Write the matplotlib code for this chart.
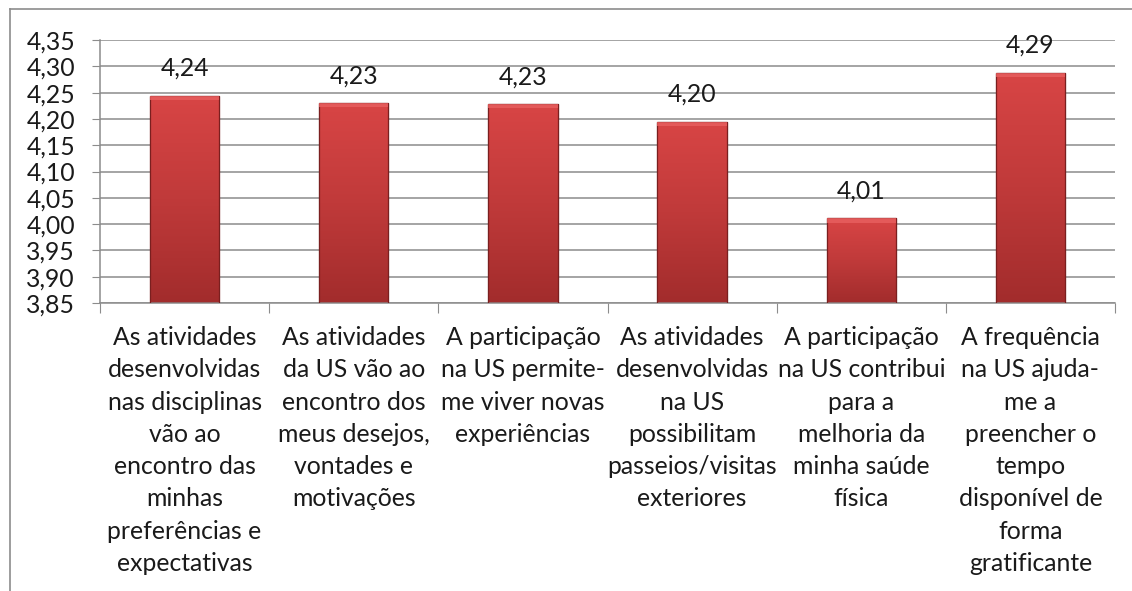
import matplotlib
matplotlib.use("Agg")
import matplotlib.pyplot as plt
import numpy as np
from matplotlib.lines import Line2D
from matplotlib.colors import LinearSegmentedColormap

categories = [
    "As atividades\ndesenvolvidas\nnas disciplinas\nvão ao\nencontro das\nminhas\npreferências e\nexpectativas",
    "As atividades\nda US vão ao\nencontro dos\nmeus desejos,\nvontades e\nmotivações",
    "A participação\nna US permite-\nme viver novas\nexperiências",
    "As atividades\ndesenvolvidas\nna US\npossibilitam\npasseios/visitas\nexteriores",
    "A participação\nna US contribui\npara a\nmelhoria da\nminha saúde\nfísica",
    "A frequência\nna US ajuda-\nme a\npreencher o\ntempo\ndisponível de\nforma\ngratificante",
]
values = [4.244, 4.230, 4.228, 4.195, 4.011, 4.288]
value_labels = ["4,24", "4,23", "4,23", "4,20", "4,01", "4,29"]
yticks = [3.85, 3.90, 3.95, 4.00, 4.05, 4.10, 4.15, 4.20, 4.25, 4.30, 4.35]

W, H = 1132, 591
DPI = 100
fig = plt.figure(figsize=(W / DPI, H / DPI), dpi=DPI)
plt.rcParams['font.family'] = ['Lato', 'DejaVu Sans']
FS = 17.8
PX = 72 / DPI  # points per pixel

left, right, top, bottom = 100, 1115, 40, 303
ax = fig.add_axes([left / W, 1 - bottom / H, (right - left) / W, (bottom - top) / H])

grid_c = "#8c8c8c"
x = np.arange(len(values))
bw = 0.41
ax.set_xlim(-0.5, len(values) - 0.5)
ax.set_ylim(3.85, 4.35)

for yv in yticks:
    ax.axhline(yv, color=grid_c, lw=1.1, zorder=0)

cmap = LinearSegmentedColormap.from_list("r", ["#a22c2c", "#c03a3a", "#d84545"])
grad = np.linspace(0, 1, 256).reshape(-1, 1)
bars = ax.bar(x, [v - 3.85 for v in values], bottom=3.85, width=bw,
              color="#c03a3a", edgecolor="#7a1f1f", lw=0.8, zorder=2)
for b in bars:
    x0, y0 = b.get_x(), b.get_y()
    w, h = b.get_width(), b.get_height()
    im = ax.imshow(grad, extent=[x0, x0 + w, y0, y0 + h], origin="lower",
                   cmap=cmap, aspect="auto", zorder=2.5)
    im.set_clip_path(b)
    ax.add_patch(plt.Rectangle((x0, y0), w, h, fill=False, ec="#7a1f1f", lw=0.9, zorder=3))
    ax.add_patch(plt.Rectangle((x0, y0 + h - 0.008), w, 0.008, fc="#e86060", ec="none", zorder=3, alpha=0.8))

for xi, v, lab in zip(x, values, value_labels):
    ax.annotate(lab, (xi, v), xytext=(0, 11.5), textcoords="offset points",
                ha="center", va="bottom", fontsize=FS, color="#1a1a1a")

ax.set_yticks(yticks)
ax.set_yticklabels([f"{t:.2f}".replace(".", ",") for t in yticks], fontsize=FS, color="#1a1a1a")
ax.tick_params(axis="y", length=6, color=grid_c, pad=12)

ax.set_xticks(np.arange(-0.5, len(values)), minor=False)
ax.set_xticklabels([])
ax.tick_params(axis="x", length=7, color=grid_c, direction="out")

for s in ["top", "right"]:
    ax.spines[s].set_visible(False)
for s in ["left", "bottom"]:
    ax.spines[s].set_color(grid_c)
    ax.spines[s].set_linewidth(1.1)

# category labels: one text per line, uniform 32.3 px line pitch
tr = ax.get_xaxis_transform()
for xi, cat in zip(x, categories):
    for i, line in enumerate(cat.split("\n")):
        ax.annotate(line, (xi, 0), xycoords=tr,
                    xytext=(0, -(42 + 32.3 * i) * PX), textcoords="offset points",
                    ha="center", va="baseline", fontsize=FS, color="#1a1a1a",
                    annotation_clip=False)

fig.add_artist(Line2D([10 / W, 10 / W], [0, 1 - 9 / H], color="#8c8c8c", lw=1.2))
fig.add_artist(Line2D([10 / W, 1], [1 - 9 / H, 1 - 9 / H], color="#8c8c8c", lw=1.2))

fig.savefig("out.png", dpi=DPI)
